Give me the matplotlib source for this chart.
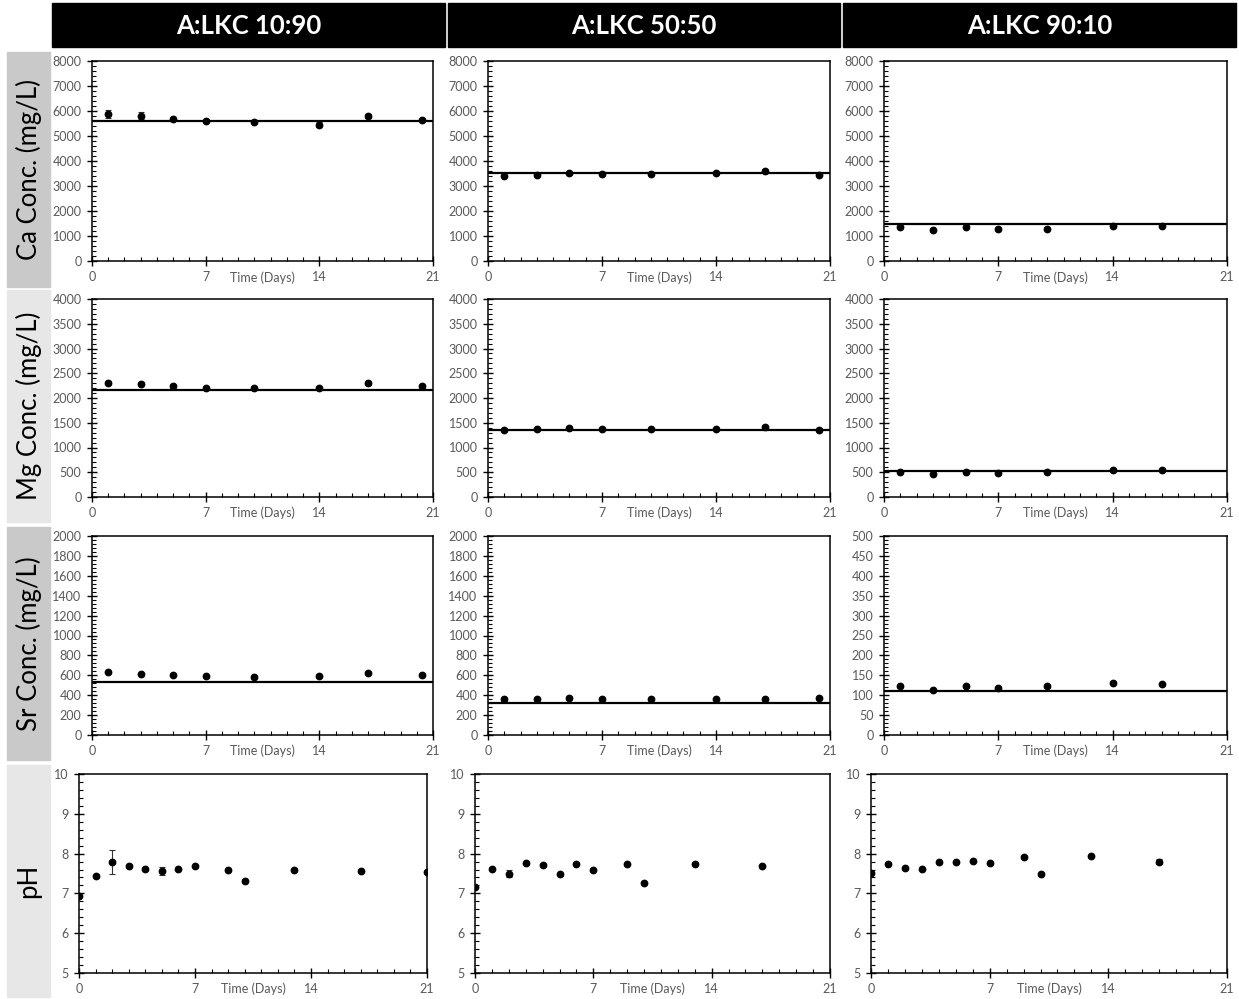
import matplotlib.pyplot as plt
from matplotlib.ticker import MultipleLocator
import numpy as np

plt.rcParams['font.family'] = ['Lato', 'DejaVu Sans']

headers = ['A:LKC 10:90', 'A:LKC 50:50', 'A:LKC 90:10']
row_labels = ['Ca Conc. (mg/L)', 'Mg Conc. (mg/L)', 'Sr Conc. (mg/L)', 'pH']

days_a = [1, 3, 5, 7, 10, 14, 17, 20.3]
days_b = [1, 3, 5, 7, 10, 14, 17]
ph_days_a = [0, 1, 2, 3, 4, 5, 6, 7, 9, 10, 13, 17, 21]
ph_days_b = [0, 1, 2, 3, 4, 5, 6, 7, 9, 10, 13, 17]

# Ca
ca_1090 = [5880, 5810, 5680, 5610, 5560, 5460, 5820, 5640]
ca_1090_err = [160, 140, 40, 40, 40, 100, 80, 40]
ca_5050 = [3410, 3440, 3530, 3500, 3500, 3510, 3610, 3440]
ca_9010 = [1350, 1240, 1350, 1280, 1300, 1390, 1390]
ca_ref = [5620, 3540, 1480]

# Mg
mg_1090 = [2310, 2290, 2240, 2200, 2210, 2195, 2295, 2240]
mg_1090_err = [30, 40, 30, 20, 20, 20, 40, 30]
mg_5050 = [1350, 1370, 1390, 1365, 1365, 1380, 1405, 1350]
mg_9010 = [500, 460, 513, 480, 500, 540, 540]
mg_ref = [2160, 1345, 535]

# Sr
sr_1090 = [630, 613, 607, 593, 587, 593, 620, 603]
sr_5050 = [362, 362, 368, 362, 362, 362, 362, 368]
sr_9010 = [122, 112, 122, 118, 122, 130, 128]
sr_ref = [528, 322, 110]

# pH
ph_1090 = [6.94, 7.43, 7.79, 7.69, 7.61, 7.57, 7.61, 7.70, 7.58, 7.31, 7.60, 7.57, 7.53]
ph_1090_err = [0, 0, 0.30, 0.03, 0, 0.10, 0, 0, 0, 0, 0, 0, 0]
ph_5050 = [7.15, 7.61, 7.50, 7.77, 7.72, 7.49, 7.73, 7.60, 7.74, 7.27, 7.75, 7.70]
ph_5050_err = [0, 0, 0.08, 0, 0, 0, 0, 0, 0, 0, 0, 0]
ph_9010 = [7.52, 7.73, 7.65, 7.61, 7.80, 7.78, 7.82, 7.77, 7.92, 7.49, 7.93, 7.80]
ph_9010_err = [0, 0, 0, 0, 0, 0, 0, 0, 0, 0, 0, 0.07]

series = [
    [(days_a, ca_1090, ca_1090_err), (days_a, ca_5050, None), (days_b, ca_9010, None)],
    [(days_a, mg_1090, mg_1090_err), (days_a, mg_5050, None), (days_b, mg_9010, None)],
    [(days_a, sr_1090, None), (days_a, sr_5050, None), (days_b, sr_9010, None)],
    [(ph_days_a, ph_1090, ph_1090_err), (ph_days_b, ph_5050, ph_5050_err), (ph_days_b, ph_9010, ph_9010_err)],
]
refs = [ca_ref, mg_ref, sr_ref, None]

# y ranges: (min, max, major, minor)
yscales = [
    [(0, 8000, 1000, 200)] * 3,
    [(0, 4000, 500, 100)] * 3,
    [(0, 2000, 200, 40), (0, 2000, 200, 40), (0, 500, 50, 10)],
    [(5, 10, 1, 0.2)] * 3,
]

W, H = 1239, 999
fig = plt.figure(figsize=(W / 100, H / 100), dpi=100)

# pixel boxes for axes
col_x = [(92, 433), (488, 830), (884, 1227)]
ph_x = [(79, 427), (475, 830), (871, 1227)]
row_y = [(61, 261), (299, 497), (536, 735), (774, 973)]

grey = '#595959'

# header bars
for c, (x0, x1) in enumerate([(52, 445), (448, 840), (843, 1236)]):
    fig.patches.append(plt.Rectangle((x0 / W, 1 - 47 / H), (x1 - x0) / W, 44 / H,
                                     transform=fig.transFigure, color='black', zorder=0))
    fig.text((x0 + x1) / 2 / W, 1 - 26 / H, headers[c], color='white', fontsize=18.5,
             fontweight='bold', ha='center', va='center')

# row label boxes
box_y = [(52, 287), (290, 522), (527, 760), (765, 997)]
box_col = ['#c9c9c9', '#e7e7e7', '#c9c9c9', '#e7e7e7']
for r, (y0, y1) in enumerate(box_y):
    fig.patches.append(plt.Rectangle((7 / W, 1 - y1 / H), 43 / W, (y1 - y0) / H,
                                     transform=fig.transFigure, color=box_col[r], zorder=0))
    fig.text(29 / W, 1 - (y0 + y1) / 2 / H, row_labels[r], rotation=90, fontsize=18.5,
             ha='center', va='center', color='black')

for r in range(4):
    for c in range(3):
        x0, x1 = ph_x[c] if r == 3 else col_x[c]
        y0, y1 = row_y[r]
        ax = fig.add_axes([x0 / W, 1 - y1 / H, (x1 - x0) / W, (y1 - y0) / H])
        xs, ys, err = series[r][c]
        if err is not None:
            ax.errorbar(xs, ys, yerr=err, fmt='none', ecolor='#333333', elinewidth=0.8,
                        capsize=2.5, capthick=0.8, zorder=2)
        ax.plot(xs, ys, 'o', color='black', markersize=4.6, zorder=3)
        if refs[r] is not None:
            ax.axhline(refs[r][c], color='black', lw=1.6, zorder=1)

        lo, hi, maj, mnr = yscales[r][c]
        ax.set_xlim(0, 21)
        ax.set_ylim(lo, hi)
        ax.xaxis.set_major_locator(MultipleLocator(7))
        ax.xaxis.set_minor_locator(MultipleLocator(1))
        ax.yaxis.set_major_locator(MultipleLocator(maj))
        ax.yaxis.set_minor_locator(MultipleLocator(mnr))
        ax.tick_params(which='major', direction='inout', length=7, width=1,
                       labelsize=9, labelcolor=grey, pad=4)
        ax.tick_params(which='minor', direction='in', length=3, width=0.8)
        ax.tick_params(top=False, right=False, which='both')
        ax.yaxis.set_major_formatter(plt.FuncFormatter(lambda v, p: f'{v:g}'))
        for s in ax.spines.values():
            s.set_linewidth(1.1)
        ax.text(10.5, -0.05, 'Time (Days)', transform=ax.get_xaxis_transform(),
                ha='center', va='top', fontsize=9, color=grey)

fig.savefig('out.png', dpi=100)
